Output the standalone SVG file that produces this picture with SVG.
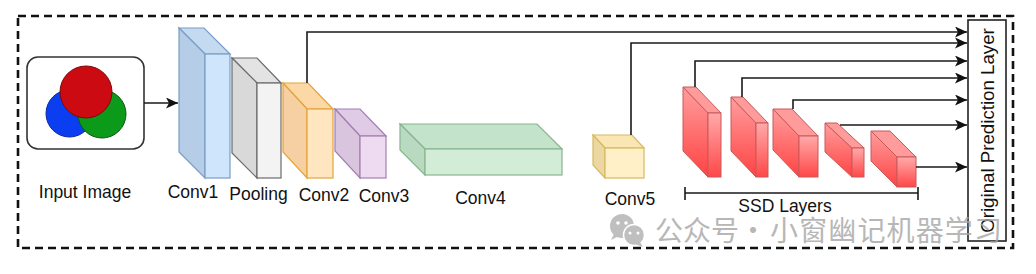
<svg xmlns="http://www.w3.org/2000/svg" width="1036" height="274" viewBox="0 0 1036 274">
<style>
  .lbl{font-family:"Liberation Sans",Arial,sans-serif;font-size:17.5px;fill:#111;text-anchor:middle}
  .edge{fill:none;stroke:#1a1a1a;stroke-width:1.6}
  .wm{font-family:"Noto Sans CJK SC",sans-serif;font-size:28px;fill:#a6a6a6}
  .blue polygon,.blue rect{stroke:#7a9cc6;stroke-width:1.2}
  .blue .f{fill:#cfe5fb}.blue .s{fill:#b6cde7}.blue .t{fill:#c4daf1}
  .gray polygon,.gray rect{stroke:#6b6b6b;stroke-width:1.2}
  .gray .f{fill:#f3f3f3}.gray .s{fill:#d9d9d9}.gray .t{fill:#e3e3e3}
  .orange polygon,.orange rect{stroke:#e3a43a;stroke-width:1.2}
  .orange .f{fill:#ffe5c0}.orange .s{fill:#f6cfa2}.orange .t{fill:#fcd8a6}
  .purple polygon,.purple rect{stroke:#a27fb1;stroke-width:1.2}
  .purple .f{fill:#eedbf1}.purple .s{fill:#dac5df}.purple .t{fill:#dfcbe5}
  .green polygon,.green rect{stroke:#86b68e;stroke-width:1.2}
  .green .f{fill:#d3ecd8}.green .s{fill:#bad9c1}.green .t{fill:#c4e3cb}
  .yellow polygon,.yellow rect{stroke:#d8b95f;stroke-width:1.2}
  .yellow .f{fill:#fff0c8}.yellow .s{fill:#ecd7a3}.yellow .t{fill:#fae6b2}
  .red polygon,.red rect{stroke:#c9595a;stroke-width:1}
  .red .f{fill:url(#rg)}.red .s{fill:url(#rg2)}.red .t{fill:#ff9b9b}
</style>
<defs>
  <linearGradient id="rg" x1="0" y1="0" x2="0" y2="1">
    <stop offset="0" stop-color="#ffaaaa"/>
    <stop offset="1" stop-color="#ff4848"/>
  </linearGradient>
  <linearGradient id="rg2" x1="0" y1="0" x2="0" y2="1">
    <stop offset="0" stop-color="#ff9e9e"/>
    <stop offset="1" stop-color="#ff4343"/>
  </linearGradient>
  <marker id="arr" markerUnits="userSpaceOnUse" markerWidth="13" markerHeight="11" refX="12" refY="5.5" orient="auto">
    <path d="M0,0 L12,5.5 L0,11 L3,5.5 Z" fill="#111"/>
  </marker>
</defs>
<rect x="0" y="0" width="1036" height="274" fill="#fff"/>

<!-- outer dashed frame -->
<rect x="18" y="16" width="995" height="232" fill="none" stroke="#111" stroke-width="2.6" stroke-dasharray="8 5"/>

<!-- input image -->
<g id="input-image">
  <rect x="27" y="57" width="117" height="92" rx="11" fill="#fff" stroke="#333" stroke-width="1.6"/>
  <circle cx="69.5" cy="113.5" r="23.5" fill="#0a3ef0" stroke="#0a2aa0" stroke-width="1"/>
  <circle cx="102" cy="114" r="24" fill="#0b9a1a" stroke="#0a5a12" stroke-width="1"/>
  <circle cx="86" cy="92" r="26" fill="#cc0a12" stroke="#7a0a0a" stroke-width="1"/>
  <text class="lbl" x="85" y="198">Input Image</text>
</g>

<!-- Conv1 -->
<g id="conv1" class="blue">
  <polygon class="t" points="179,28 204,28 230,54 205,54"/>
  <polygon class="s" points="179,28 205,54 205,178 179,152"/>
  <rect class="f" x="205" y="54" width="25" height="124"/>
  <text class="lbl" x="193" y="198">Conv1</text>
</g>

<!-- Pooling -->
<g id="pooling" class="gray">
  <polygon class="t" points="232,58 257,58 281,83 257,83"/>
  <polygon class="s" points="232,58 257,83 257,178 232,153"/>
  <rect class="f" x="257" y="83" width="24" height="95"/>
  <text class="lbl" x="258.5" y="200">Pooling</text>
</g>

<!-- Conv2 -->
<g id="conv2" class="orange">
  <polygon class="t" points="283,83 308,83 333,109 307,109"/>
  <polygon class="s" points="283,83 307,109 307,178 283,152"/>
  <rect class="f" x="307" y="109" width="26" height="69"/>
  <text class="lbl" x="324" y="201">Conv2</text>
</g>

<!-- Conv3 -->
<g id="conv3" class="purple">
  <polygon class="t" points="335,109 360,109 386,136 360,136"/>
  <polygon class="s" points="335,109 360,136 360,178 335,151"/>
  <rect class="f" x="360" y="136" width="26" height="42"/>
  <text class="lbl" x="384" y="202">Conv3</text>
</g>

<!-- Conv4 -->
<g id="conv4" class="green">
  <polygon class="t" points="400,124 537,124 562,149 425,149"/>
  <polygon class="s" points="400,124 425,149 425,175 400,150"/>
  <rect class="f" x="425" y="149" width="137" height="26"/>
  <text class="lbl" x="480.5" y="204">Conv4</text>
</g>

<!-- Conv5 -->
<g id="conv5" class="yellow">
  <polygon class="t" points="593,135 632,135 644,148 605,148"/>
  <polygon class="s" points="593,135 605,148 605,178 593,165"/>
  <rect class="f" x="605" y="148" width="39" height="30"/>
  <text class="lbl" x="630" y="205">Conv5</text>
</g>

<!-- SSD layers -->
<g id="ssd1" class="red">
  <polygon class="s" points="683,87 708,113 708,177 683,151"/>
  <polygon class="t" points="683,87 696,87 721,113 708,113"/>
  <rect class="f" x="708" y="113" width="13" height="64"/>
</g>
<g id="ssd2" class="red">
  <polygon class="s" points="731,97 756,123 756,177 731,151"/>
  <polygon class="t" points="731,97 743,97 768,123 756,123"/>
  <rect class="f" x="756" y="123" width="12" height="54"/>
</g>
<g id="ssd3" class="red">
  <polygon class="s" points="773,109 799,136 799,177 773,150"/>
  <polygon class="t" points="773,109 792,109 818,136 799,136"/>
  <rect class="f" x="799" y="136" width="19" height="41"/>
</g>
<g id="ssd4" class="red">
  <polygon class="s" points="825,123 852,148 852,177 825,152"/>
  <polygon class="t" points="825,123 837,123 864,148 852,148"/>
  <rect class="f" x="852" y="148" width="12" height="29"/>
</g>
<g id="ssd5" class="red">
  <polygon class="s" points="871,131 897,157 897,187 871,161"/>
  <polygon class="t" points="871,131 890,131 916,157 897,157"/>
  <rect class="f" x="897" y="157" width="19" height="30"/>
</g>

<g id="ssd-bracket">
  <path d="M685,193 H918 M685,187 V200 M918,187 V200" fill="none" stroke="#1a1a1a" stroke-width="1.6"/>
  <text class="lbl" x="785" y="212">SSD Layers</text>
</g>

<!-- prediction layer -->
<g id="prediction-layer">
  <rect x="968" y="20" width="38" height="221" fill="#fff" stroke="#222" stroke-width="1.6"/>
  <text transform="translate(994,130.5) rotate(-90)" x="0" y="0" font-family="'Liberation Sans',Arial,sans-serif" font-size="18.7" fill="#111" text-anchor="middle">Original Prediction Layer</text>
</g>

<!-- connectors -->
<g id="connectors" class="edge" marker-end="url(#arr)">
  <path d="M144,103 H178"/>
  <path d="M307,83 V32 H967"/>
  <path d="M631,135 V43 H967"/>
  <path d="M695,87 V61 H967"/>
  <path d="M742,97 V78 H967"/>
  <path d="M793,109 V100 H967"/>
  <path d="M840,125 H967"/>
  <path d="M916,167 H967"/>
</g>

<!-- watermark -->
<g id="watermark" opacity="0.8">
  <circle cx="622" cy="226" r="12" fill="#b0b0b0"/>
  <path d="M614,234 L611,240 L619,236 Z" fill="#b0b0b0"/>
  <circle cx="634" cy="235" r="10.5" fill="#b0b0b0" stroke="#fff" stroke-width="1.5"/>
  <path d="M640,242 L643,247 L635,244 Z" fill="#b0b0b0"/>
  <circle cx="618" cy="223" r="1.8" fill="#fff"/>
  <circle cx="626" cy="223" r="1.8" fill="#fff"/>
  <circle cx="630" cy="233" r="1.5" fill="#fff"/>
  <circle cx="638" cy="233" r="1.5" fill="#fff"/>
  <text class="wm" x="655" y="241">公众号</text>
  <text class="wm" x="753" y="241" text-anchor="middle">·</text>
  <text class="wm" x="770" y="241" textLength="232" lengthAdjust="spacing">小窗幽记机器学习</text>
</g>
</svg>
